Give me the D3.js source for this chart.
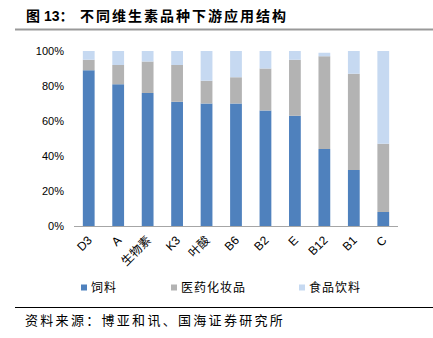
<!DOCTYPE html>
<html><head><meta charset="utf-8">
<script src="https://cdn.jsdelivr.net/npm/d3@7"></script>
<style>body{margin:0;background:#fff;}svg{display:block;}</style>
</head><body>
<script>
const categories = ["D3","A","生物素","K3","叶酸","B6","B2","E","B12","B1","C"];
const feed = [89,81,76,71,70,70,66,63,44,32,8];
const pharma = [6,11,18,21,13,15,24,32,53,55,39];
const food = [5,8,6,8,17,15,10,5,2,13,53];
const seriesNames = ["饲料","医药化妆品","食品饮料"];
const seriesColors = ["#4F81BD","#B3B3B3","#C6D9F1"];
const yTicks = [0,20,40,60,80,100];
const titleLabel = "图 13：";
const title = "不同维生素品种下游应用结构";
const source = "资料来源：博亚和讯、国海证券研究所";

const W=433,H=338;
const svg=d3.select("body").append("svg").attr("width",W).attr("height",H);
const font="'Liberation Sans', Arial, 'Noto Sans CJK SC', sans-serif";
const cjk="'Noto Sans CJK SC', sans-serif";

svg.append("text").attr("x",26).attr("y",21).attr("font-family",font).attr("font-weight","bold")
  .attr("font-size",14).attr("fill","#000").text(titleLabel);
svg.append("text").attr("x",80).attr("y",21).attr("font-family",cjk).attr("font-weight","bold")
  .attr("font-size",14).attr("letter-spacing",2).attr("fill","#000").text(title);
svg.append("line").attr("x1",15).attr("x2",433).attr("y1",29.5).attr("y2",29.5)
  .attr("stroke","#999").attr("stroke-width",2);

const x=d3.scaleBand().domain(categories).range([74,398]).paddingInner(0.6).paddingOuter(0.3);
const y=d3.scaleLinear().domain([0,100]).range([226,51]);

const rows=categories.map((c,i)=>({cat:c,"饲料":feed[i],"医药化妆品":pharma[i],"食品饮料":food[i]}));
const stack=d3.stack().keys(seriesNames)(rows);
const g=svg.append("g");
stack.forEach((s,si)=>{
  g.selectAll(null).data(s).enter().append("rect")
    .attr("x",d=>x(d.data.cat)).attr("width",x.bandwidth())
    .attr("y",d=>y(d[1])).attr("height",d=>y(d[0])-y(d[1]))
    .attr("fill",seriesColors[si]);
});

const yAxis=svg.append("g").attr("transform","translate(74,0)")
  .call(d3.axisLeft(y).tickValues(yTicks).tickFormat(d=>d+"%").tickSize(0).tickPadding(10));
yAxis.select(".domain").remove();
yAxis.selectAll("text").attr("font-family",font).attr("font-size",11).attr("fill","#000");

svg.append("line").attr("x1",74).attr("x2",398).attr("y1",226.5).attr("y2",226.5).attr("stroke","#A6A6A6").attr("stroke-width",1);

const xAxis=svg.append("g").attr("transform","translate(0,226)")
  .call(d3.axisBottom(x).tickSize(0).tickPadding(0));
xAxis.select(".domain").remove();
xAxis.selectAll("text").attr("font-family",font).attr("font-size",12).attr("fill","#000")
  .attr("text-anchor","end").attr("dy",0).attr("y",0)
  .attr("transform","translate(4,15) rotate(-45)");

const leg=svg.append("g");
const legX=[81,171,299];
seriesNames.forEach((n,i)=>{
  leg.append("rect").attr("x",legX[i]).attr("y",284.5).attr("width",6).attr("height",6).attr("fill",seriesColors[i]);
  leg.append("text").attr("x",legX[i]+10).attr("y",292).attr("font-family",cjk).attr("font-size",12)
    .attr("fill","#000").attr("letter-spacing",1).text(n);
});

svg.append("line").attr("x1",15).attr("x2",433).attr("y1",307.5).attr("y2",307.5).attr("stroke","#000").attr("stroke-width",1);
svg.append("text").attr("x",25).attr("y",325).attr("font-family",cjk).attr("font-size",13).attr("letter-spacing",2.3).attr("fill","#000").text(source);
</script>
</body></html>
